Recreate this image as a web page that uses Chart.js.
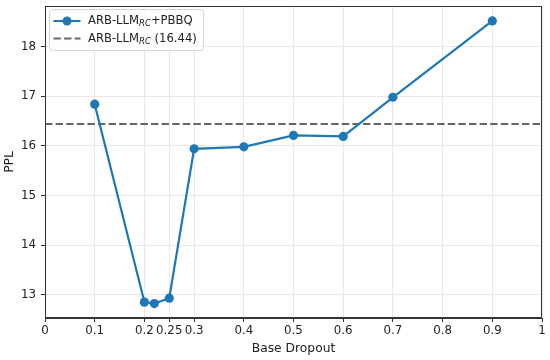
<!DOCTYPE html>
<html><head><meta charset="utf-8">
<script src="https://cdn.jsdelivr.net/npm/chart.js@4"></script>
<style>html,body{margin:0;padding:0;background:#fff}#wrap{width:550px;height:360px}</style>
</head><body><div id="wrap"><canvas id="c" width="550" height="360"></canvas></div>
<script>
const dropout = [0.1, 0.2, 0.22, 0.25, 0.3, 0.4, 0.5, 0.6, 0.7, 0.9];
const ppl = [16.84, 12.85, 12.82, 12.93, 15.94, 15.98, 16.21, 16.19, 16.98, 18.52];
const baselinePPL = 16.44;
const xTicks = [0, 0.1, 0.2, 0.25, 0.3, 0.4, 0.5, 0.6, 0.7, 0.8, 0.9, 1];
const yTicks = [13, 14, 15, 16, 17, 18];
const xTitle = 'Base Dropout';
const yTitle = 'PPL';
const seriesLabel = [{t:'ARB-LLM'},{t:'RC',sub:true},{t:'+PBBQ'}];
const baselineLabel = [{t:'ARB-LLM'},{t:'RC',sub:true},{t:' (' + baselinePPL.toFixed(2) + ')'}];

const FONT = "'DejaVu Sans', sans-serif";
const BLUE = '#1f77b4';
const DASH = '#666666';

const framePlugin = {
  id: 'frame',
  afterDatasetsDraw(chart) {
    const {ctx, chartArea: a} = chart;
    ctx.save();
    ctx.strokeStyle = '#333';
    ctx.lineWidth = 1;
    ctx.strokeRect(Math.round(a.left) + 0.5, Math.round(a.top) + 0.5, Math.round(a.right - a.left) - 1, Math.round(a.bottom - a.top) - 1);
    ctx.restore();
  }
};

function drawRich(ctx, segs, x, y) {
  let cx = x;
  for (const s of segs) {
    if (s.sub) {
      ctx.font = "italic 8.5px " + FONT;
      ctx.fillText(s.t, cx, y + 3);
    } else {
      ctx.font = "11.6px " + FONT;
      ctx.fillText(s.t, cx, y);
    }
    cx += ctx.measureText(s.t).width;
  }
  return cx - x;
}

const legendPlugin = {
  id: 'customLegend',
  afterDraw(chart) {
    const {ctx} = chart;
    const x0 = 49.5, y0 = 9.5;
    const w = 154, h = 41;
    ctx.save();
    ctx.globalAlpha = 0.8;
    ctx.fillStyle = '#fff';
    ctx.strokeStyle = '#cccccc';
    ctx.lineWidth = 1;
    ctx.beginPath();
    ctx.roundRect(x0, y0, w, h, 3);
    ctx.fill();
    ctx.stroke();
    ctx.globalAlpha = 1;
    const r1 = y0 + 11.5, r2 = y0 + 29;
    ctx.strokeStyle = BLUE; ctx.lineWidth = 2;
    ctx.beginPath(); ctx.moveTo(x0 + 4, r1); ctx.lineTo(x0 + 31, r1); ctx.stroke();
    ctx.fillStyle = BLUE;
    ctx.beginPath(); ctx.arc(x0 + 17.5, r1, 4.5, 0, Math.PI * 2); ctx.fill();
    ctx.strokeStyle = DASH; ctx.lineWidth = 2;
    ctx.setLineDash([7.4, 3.2]);
    ctx.beginPath(); ctx.moveTo(x0 + 4, r2); ctx.lineTo(x0 + 31, r2); ctx.stroke();
    ctx.setLineDash([]);
    ctx.fillStyle = '#222';
    ctx.textBaseline = 'middle';
    ctx.textAlign = 'left';
    drawRich(ctx, seriesLabel, x0 + 38.5, r1);
    drawRich(ctx, baselineLabel, x0 + 38.5, r2);
    ctx.restore();
  }
};

new Chart(document.getElementById('c'), {
  type: 'line',
  data: {
    datasets: [
      {
        label: 'main',
        data: dropout.map((x, i) => ({x, y: ppl[i]})),
        borderColor: BLUE,
        backgroundColor: BLUE,
        borderWidth: 2.2,
        pointRadius: 4.6,
        pointHoverRadius: 4.6,
        pointBorderWidth: 0,
        pointBackgroundColor: BLUE,
        tension: 0,
        order: 1
      },
      {
        label: 'baseline',
        data: [{x: 0, y: baselinePPL}, {x: 1, y: baselinePPL}],
        borderColor: DASH,
        borderWidth: 2,
        borderDash: [7.4, 3.2],
        pointRadius: 0,
        order: 2
      }
    ]
  },
  options: {
    responsive: false,
    animation: false,
    devicePixelRatio: 1,
    layout: {padding: {left: 0, right: 8, top: 6, bottom: 0}},
    plugins: {legend: {display: false}, tooltip: {enabled: false}},
    scales: {
      x: {
        type: 'linear', min: 0, max: 1,
        afterBuildTicks(s) { s.ticks = xTicks.map(v => ({value: v})); },
        afterFit(s) { s.height = 42; s.paddingLeft = 0; s.paddingRight = 0; },
        ticks: {
          autoSkip: false, maxRotation: 0, padding: 2,
          color: '#222', font: {family: FONT, size: 11.8},
          callback: v => String(v)
        },
        grid: {color: '#e8e8e8', tickColor: '#333', tickLength: 4, lineWidth: 1},
        border: {color: '#333', width: 1},
        title: {display: true, text: xTitle, color: '#222', font: {family: FONT, size: 12.3}, padding: {top: 2, bottom: 4}}
      },
      y: {
        type: 'linear', min: 12.53, max: 18.82,
        afterBuildTicks(s) { s.ticks = yTicks.map(v => ({value: v})); },
        afterFit(s) { s.width = 45; s.paddingTop = 0; s.paddingBottom = 0; },
        ticks: {
          padding: 5, color: '#222', font: {family: FONT, size: 11.8},
          callback: v => String(v)
        },
        grid: {color: '#e8e8e8', tickColor: '#333', tickLength: 4, lineWidth: 1},
        border: {color: '#333', width: 1},
        title: {display: true, text: yTitle, color: '#222', font: {family: FONT, size: 12.3}, padding: {top: 2, bottom: 2}}
      }
    }
  },
  plugins: [framePlugin, legendPlugin]
});
</script>
</body></html>
